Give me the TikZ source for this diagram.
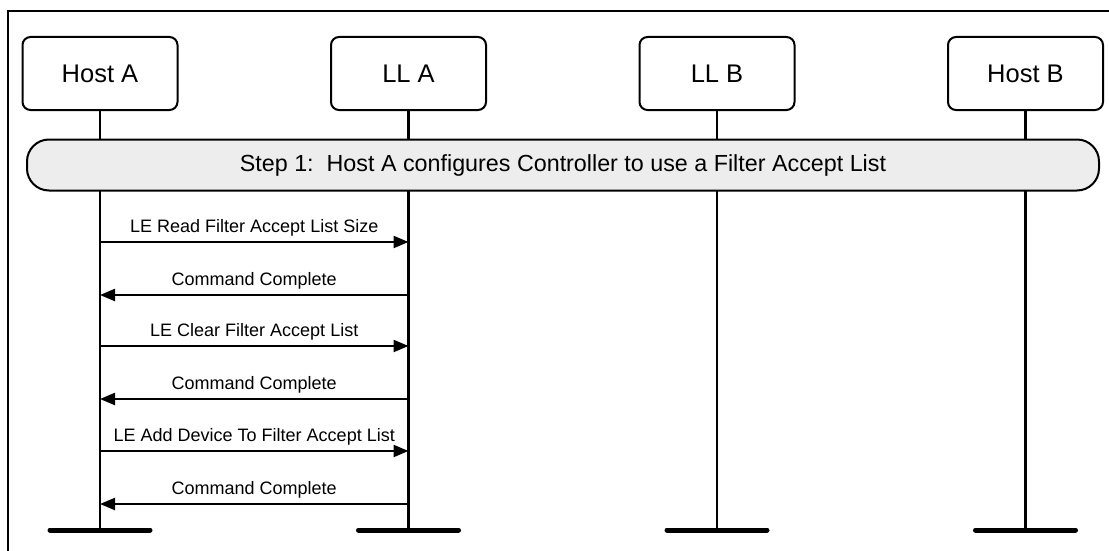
\documentclass[tikz,border=0pt]{standalone}
\usepackage{fontspec}
\setmainfont{Liberation Sans}
\usetikzlibrary{arrows.meta}
\begin{document}
\begin{tikzpicture}[x=1pt,y=-1pt,
  entity/.style={draw,line width=2pt,rounded corners=8pt,minimum width=155pt,minimum height=73pt,font=\fontsize{25.5}{30}\selectfont,inner sep=0pt},
  life/.style={line width=2.2pt},
  foot/.style={line width=5pt,line cap=round},
  msg/.style={line width=2.2pt,-{Triangle[length=15pt,width=12pt]}},
  lbl/.style={font=\fontsize{18}{21}\selectfont,above,inner sep=0pt,yshift=5pt},
  stepbar/.style={draw,line width=2pt,fill=black!7,rounded corners=22pt,minimum width=1072pt,minimum height=51pt,font=\fontsize{23.3}{27}\selectfont}]
\useasboundingbox (0,0) rectangle (1109,551);
\draw[line width=2pt] (8,551) -- (8,11) -- (1109,11);
\node[entity] (ha) at (100,73.5) {Host A};
\node[entity] (la) at (408.5,73.5) {LL A};
\node[entity] (lb) at (717,73.5) {LL B};
\node[entity] (hb) at (1025.5,73.5) {Host B};
\coordinate (hae) at (100,530);
\coordinate (lae) at (408.5,530);
\coordinate (lbe) at (717,530);
\coordinate (hbe) at (1025.5,530);
\draw[life] (ha) -- (hae);
\draw[life] (la) -- (lae);
\draw[life] (lb) -- (lbe);
\draw[life] (hb) -- (hbe);
\foreach \c in {hae,lae,lbe,hbe} \draw[foot] ([xshift=-50pt]\c) -- ([xshift=50pt]\c);
\node[stepbar] (step) at (563,165) {Step 1:\ \ Host A configures Controller to use a Filter Accept List};
\foreach \y/\dir/\t in {242/r/LE Read Filter Accept List Size, 295/l/Command Complete, 346/r/LE Clear Filter Accept List, 399/l/Command Complete, 451/r/LE Add Device To Filter Accept List, 504/l/Command Complete}{
  \coordinate (a\y) at (100,\y);
  \coordinate (b\y) at (408.5,\y);
  \if r\dir
    \draw[msg] (a\y) -- node[lbl] {\t} (b\y);
  \else
    \draw[msg] (b\y) -- node[lbl] {\t} (a\y);
  \fi
}
\end{tikzpicture}
\end{document}
